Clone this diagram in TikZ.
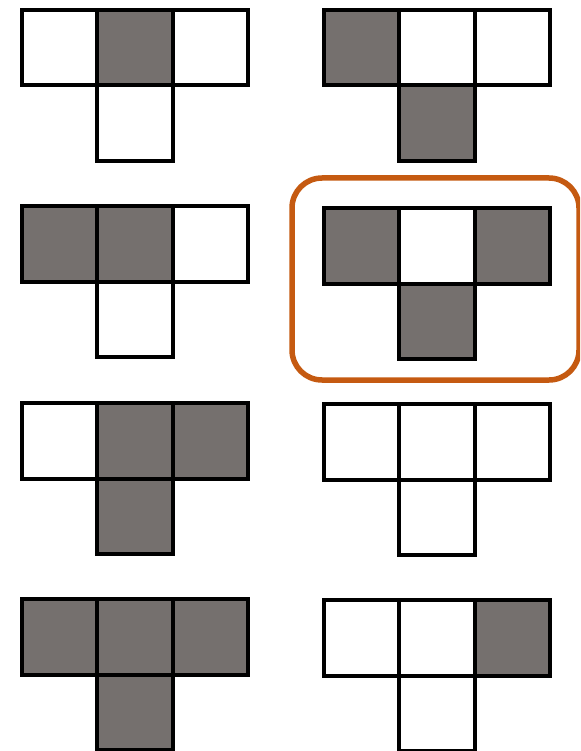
\documentclass[tikz,border=0pt]{standalone}
\definecolor{cellgray}{HTML}{75706E}
\definecolor{frameorange}{HTML}{C55A11}
\tikzset{
  cell/.style={draw=black, line width=4pt, minimum size=75.5pt, inner sep=0pt, outer sep=0pt, fill=white},
  on/.style={fill=cellgray},
  off/.style={fill=white},
  frame/.style={draw=frameorange, line width=5.5pt, rounded corners=30pt}
}
% #1 name, #2 x of left edge, #3 y of top edge, #4-#7 styles for top-left, top-mid, top-right, bottom
\newcommand{\tpiece}[7]{%
  \node[cell,#4] (#1a) at (#2+37.75, -#3-37.75) {};
  \node[cell,#5] (#1b) at (#2+113.25, -#3-37.75) {};
  \node[cell,#6] (#1c) at (#2+188.75, -#3-37.75) {};
  \node[cell,#7] (#1d) at (#2+113.25, -#3-113.25) {};
}
\begin{document}
\begin{tikzpicture}[x=1pt,y=1pt]
\useasboundingbox (0,0) rectangle (580,-751);
\begin{scope}
\clip (0,0) rectangle (580,-751);
\draw[frame] (292,-178) rectangle (579,-380);
\end{scope}
\tpiece{p1}{21.5}{10}{off}{on}{off}{off}
\tpiece{p2}{323.5}{10}{on}{off}{off}{on}
\tpiece{p3}{21.5}{206}{on}{on}{off}{off}
\tpiece{p4}{323.5}{208}{on}{off}{on}{on}
\tpiece{p5}{21.5}{403}{off}{on}{on}{on}
\tpiece{p6}{323.5}{404}{off}{off}{off}{off}
\tpiece{p7}{21.5}{599}{on}{on}{on}{on}
\tpiece{p8}{323.5}{600}{off}{off}{on}{off}
\end{tikzpicture}
\end{document}
